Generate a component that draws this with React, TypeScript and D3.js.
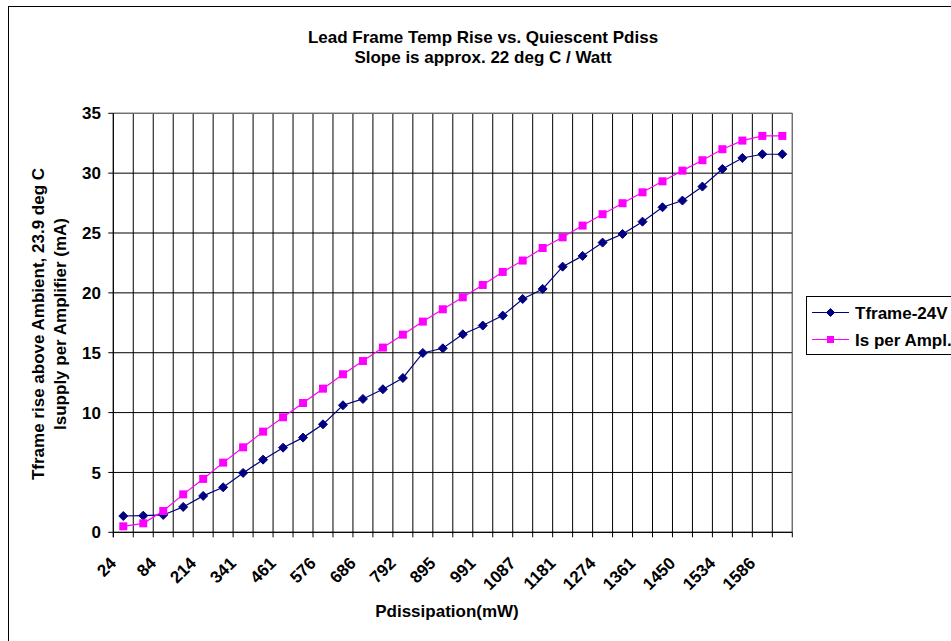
import React, { useEffect, useRef } from 'react';
import * as d3 from 'd3';

// values
const tickLabels = ['24', '84', '214', '341', '461', '576', '686', '792', '895', '991', '1087', '1181', '1274', '1361', '1450', '1534', '1586'];
const tframe = [1.36, 1.39, 1.45, 2.12, 3.04, 3.76, 4.96, 6.07, 7.07, 7.91, 9.02, 10.61, 11.14, 11.95, 12.89, 14.98, 15.37,
  16.54, 17.27, 18.1, 19.49, 20.33, 22.19, 23.09, 24.2, 24.92, 25.95, 27.15, 27.71, 28.88, 30.35, 31.27, 31.58, 31.58];
const isAmpl = [0.5, 0.75, 1.78, 3.17, 4.46, 5.82, 7.1, 8.41, 9.61, 10.8, 12.0, 13.2, 14.31, 15.43, 16.51, 17.6, 18.63,
  19.63, 20.66, 21.75, 22.7, 23.75, 24.64, 25.62, 26.57, 27.49, 28.4, 29.32, 30.21, 31.08, 32.0, 32.72, 33.11, 33.11];
const yTicks = [0, 5, 10, 15, 20, 25, 30, 35];
const seriesNames = ['Tframe-24V', 'Is per Ampl.'];

const W = 951;
const H = 641;
const FONT = '"Liberation Sans", Arial, sans-serif';
const NAVY = '#000080';
const MAGENTA = '#ff00ff';

function diamond(g: any, cx: number, cy: number, r: number) {
  g.append('path')
    .attr('d', `M${cx},${cy - r}L${cx + r},${cy}L${cx},${cy + r}L${cx - r},${cy}Z`)
    .attr('fill', NAVY)
    .attr('stroke', NAVY);
}

function square(g: any, cx: number, cy: number, s: number) {
  g.append('rect')
    .attr('x', cx - s / 2)
    .attr('y', cy - s / 2)
    .attr('width', s)
    .attr('height', s)
    .attr('fill', MAGENTA);
}

export default function App() {
  const ref = useRef<SVGSVGElement>(null);

  useEffect(() => {
    const svg = d3.select(ref.current);
    svg.selectAll('*').remove();

    const left = 113.3, right = 792.3, top = 113.3, bottom = 532.3;
    const cats = d3.range(tframe.length);
    const x = d3.scaleBand<number>().domain(cats).range([left, right]);
    const y = d3.scaleLinear().domain([0, 35]).range([bottom, top]);
    const cx = (i: number) => (x(i) as number) + x.bandwidth() / 2;

    // outer chart border
    svg.append('rect')
      .attr('x', 8.5).attr('y', 6.5)
      .attr('width', W).attr('height', H)
      .attr('fill', 'none').attr('stroke', '#000');

    // titles
    const title = svg.append('text')
      .attr('x', 483).attr('text-anchor', 'middle')
      .style('font', `bold 17px ${FONT}`);
    title.append('tspan').attr('x', 483).attr('y', 42.5).text('Lead Frame Temp Rise vs. Quiescent Pdiss');
    title.append('tspan').attr('x', 483).attr('y', 62.5).text('Slope is approx. 22 deg C / Watt');

    // gridlines
    const grid = svg.append('g');
    yTicks.forEach((t) => {
      grid.append('line')
        .attr('x1', left).attr('x2', right)
        .attr('y1', y(t)).attr('y2', y(t))
        .attr('stroke', '#000');
    });
    d3.range(cats.length + 1).forEach((i) => {
      const gx = left + i * x.bandwidth();
      grid.append('line')
        .attr('x1', gx).attr('x2', gx)
        .attr('y1', top).attr('y2', bottom)
        .attr('stroke', '#000');
    });
    // plot area frame
    svg.append('path')
      .attr('d', `M${left},${top}H${right}V${bottom}`)
      .attr('fill', 'none').attr('stroke', '#808080');

    // y axis
    svg.append('line')
      .attr('x1', left).attr('x2', left).attr('y1', top).attr('y2', bottom + 5)
      .attr('stroke', '#000');
    yTicks.forEach((t) => {
      svg.append('line')
        .attr('x1', left - 5).attr('x2', left)
        .attr('y1', y(t)).attr('y2', y(t))
        .attr('stroke', '#000');
      svg.append('text')
        .attr('x', 101).attr('y', y(t)).attr('dy', '0.36em')
        .attr('text-anchor', 'end')
        .style('font', `bold 17px ${FONT}`)
        .text(t);
    });

    // x axis
    svg.append('line')
      .attr('x1', left).attr('x2', right).attr('y1', bottom).attr('y2', bottom)
      .attr('stroke', '#000');
    d3.range(cats.length + 1).forEach((i) => {
      const gx = left + i * x.bandwidth();
      svg.append('line')
        .attr('x1', gx).attr('x2', gx)
        .attr('y1', bottom).attr('y2', bottom + 5)
        .attr('stroke', '#000');
    });
    cats.forEach((i) => {
      if (i % 2 !== 0) return;
      svg.append('text')
        .attr('transform', `translate(${cx(i) - 6},${bottom + 32}) rotate(-45)`)
        .attr('text-anchor', 'end')
        .style('font', `bold 17px ${FONT}`)
        .text(tickLabels[i / 2]);
    });

    // axis titles
    svg.append('text')
      .attr('x', 447).attr('y', 617)
      .attr('text-anchor', 'middle')
      .style('font', `bold 17px ${FONT}`)
      .text('Pdissipation(mW)');
    const yt = svg.append('text')
      .attr('transform', 'translate(44,324) rotate(-90)')
      .attr('text-anchor', 'middle')
      .style('font', `bold 17px ${FONT}`);
    yt.append('tspan').attr('x', 0).attr('y', 0).text('Tframe rise above Ambient, 23.9 deg C');
    yt.append('tspan').attr('x', 0).attr('y', 22).text('Isupply per Amplifier (mA)');

    // series
    const line = d3.line<number>().x((_d, i) => cx(i)).y((d) => y(d));
    svg.append('path').datum(tframe)
      .attr('d', line).attr('fill', 'none').attr('stroke', NAVY).attr('stroke-width', 1.2);
    svg.append('path').datum(isAmpl)
      .attr('d', line).attr('fill', 'none').attr('stroke', MAGENTA).attr('stroke-width', 1.2);
    const marks = svg.append('g');
    tframe.forEach((v, i) => diamond(marks, cx(i), y(v), 4.5));
    isAmpl.forEach((v, i) => square(marks, cx(i), y(v), 8));

    // legend
    const lg = svg.append('g');
    lg.append('rect')
      .attr('x', 806.5).attr('y', 296.5)
      .attr('width', 200).attr('height', 58)
      .attr('fill', '#fff').attr('stroke', '#000');
    const rows = [312.5, 339.5];
    seriesNames.forEach((name, k) => {
      const ry = rows[k];
      lg.append('line')
        .attr('x1', 812).attr('x2', 849).attr('y1', ry).attr('y2', ry)
        .attr('stroke', k === 0 ? NAVY : MAGENTA).attr('stroke-width', 1.2);
      if (k === 0) diamond(lg, 830.5, ry, 4);
      else square(lg, 830.5, ry, 7);
      lg.append('text')
        .attr('x', 855).attr('y', ry).attr('dy', '0.36em')
        .style('font', `bold 17px ${FONT}`)
        .text(name);
    });
  }, []);

  return (
    <svg
      ref={ref}
      width={W}
      height={H}
      style={{ position: 'absolute', left: 0, top: 0, background: '#fff' }}
    />
  );
}
